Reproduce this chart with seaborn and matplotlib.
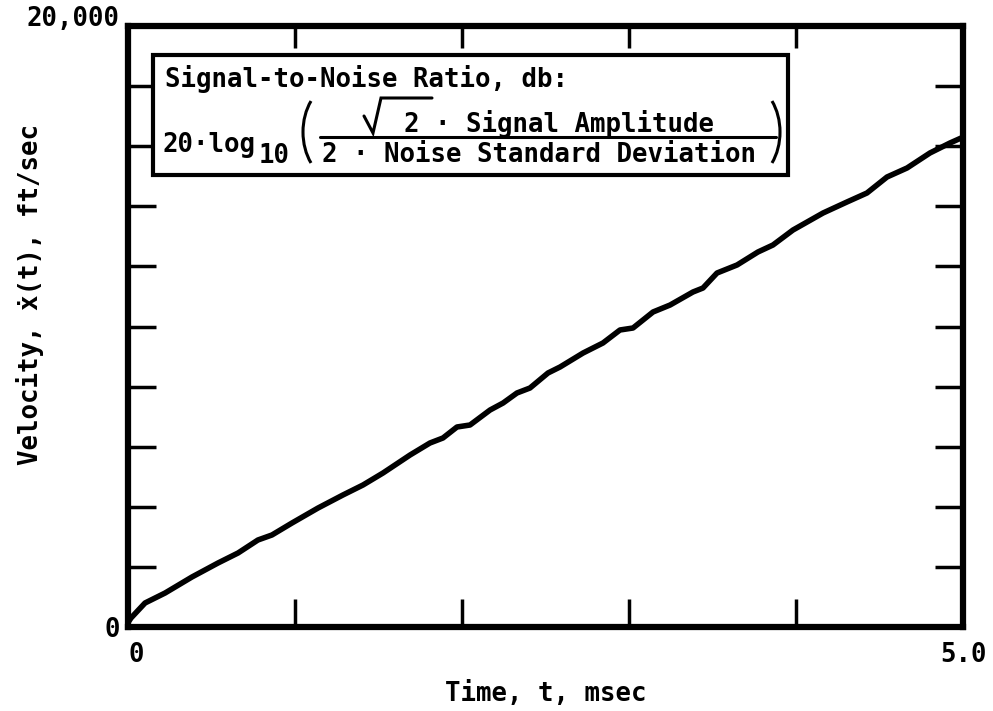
import numpy as np
import pandas as pd
import matplotlib
matplotlib.use("Agg")
import matplotlib.pyplot as plt
from matplotlib.patches import Rectangle, Arc
import seaborn as sns

# ---- data ----
time_ms = [0.0, 0.018, 0.102, 0.222, 0.383, 0.539, 0.659, 0.778, 0.862, 0.982,
           1.138, 1.287, 1.407, 1.527, 1.689, 1.808, 1.886, 1.970, 2.048, 2.168,
           2.246, 2.329, 2.407, 2.515, 2.587, 2.725, 2.844, 2.946, 3.024, 3.144,
           3.246, 3.383, 3.443, 3.527, 3.647, 3.772, 3.862, 3.982, 4.162, 4.305,
           4.425, 4.545, 4.665, 4.802, 4.922, 5.0]
velocity = [150, 300, 799, 1131, 1664, 2130, 2463, 2895, 3062, 3461,
            3960, 4393, 4725, 5125, 5724, 6123, 6290, 6656, 6722, 7221,
            7454, 7787, 7953, 8453, 8652, 9118, 9451, 9884, 9950, 10483,
            10715, 11148, 11281, 11780, 12047, 12479, 12712, 13211, 13777, 14143,
            14443, 14975, 15275, 15774, 16107, 16300]
x_ticks = [0, 1, 2, 3, 4, 5]
x_tick_labels = ["0", "", "", "", "", "5.0"]
y_ticks = [0, 2000, 4000, 6000, 8000, 10000, 12000, 14000, 16000, 18000, 20000]
y_tick_labels = ["0", "", "", "", "", "", "", "", "", "", "20,000"]

df = pd.DataFrame({"t": time_ms, "v": velocity})

sns.set_theme(style="ticks")
plt.rcParams["font.family"] = ["DejaVu Sans Mono", "DejaVu Sans"]
plt.rcParams["font.weight"] = "bold"
plt.rcParams["text.color"] = "black"
plt.rcParams["axes.labelcolor"] = "black"
plt.rcParams["xtick.color"] = "black"
plt.rcParams["ytick.color"] = "black"

W, H = 993, 711
fig = plt.figure(figsize=(W / 100, H / 100), dpi=100)
fig.patch.set_facecolor("white")

L, R, T, B = 128, 963, 26, 627
ax = fig.add_axes([L / W, (H - B) / H, (R - L) / W, (B - T) / H])
ax.set_facecolor("white")

sns.lineplot(data=df, x="t", y="v", ax=ax, color="black", linewidth=4.0,
             estimator=None, sort=False, solid_joinstyle="round",
             solid_capstyle="round")

ax.set_xlim(0, 5)
ax.set_ylim(0, 20000)
ax.set_xticks(x_ticks)
ax.set_xticklabels(x_tick_labels)
ax.set_yticks(y_ticks)
ax.set_yticklabels(y_tick_labels)

FS = 18.5
for sp in ax.spines.values():
    sp.set_visible(True)
    sp.set_linewidth(4.5)
    sp.set_color("black")

ax.tick_params(axis="both", which="major", direction="in", length=20, width=2.5,
               top=True, right=True, colors="black", labelsize=FS,
               labelcolor="black")
ax.tick_params(axis="x", pad=11)
ax.tick_params(axis="y", pad=6)
for tk in ax.xaxis.get_major_ticks():
    tk.tick2line.set_markersize(16)

xl = ax.get_xticklabels()
xl[0].set_ha("left")
yl = ax.get_yticklabels()
yl[-1].set_va("baseline")
yl[0].set_va("center_baseline")
for lab in xl + yl:
    lab.set_fontweight("bold")
    lab.set_color("black")

ax.set_xlabel("Time, t, msec", fontsize=FS, fontweight="bold", labelpad=9,
              color="black")
ax.set_ylabel("Velocity, ẋ(t), ft/sec", fontsize=FS, fontweight="bold",
              color="black")
ax.yaxis.set_label_coords(-0.100, 0.554)

# ---- annotation box drawn in pixel space ----
ov = fig.add_axes([0, 0, 1, 1], zorder=5)
ov.set_xlim(0, W)
ov.set_ylim(H, 0)
ov.axis("off")
ov.patch.set_alpha(0)

ov.add_patch(Rectangle((153, 55), 635, 120, facecolor="white", edgecolor="black",
                       linewidth=3.0))
tkw = dict(fontsize=FS, fontweight="bold", color="black", va="baseline", ha="left")
ov.text(165, 87, "Signal-to-Noise Ratio, db:", **tkw)
ov.text(162, 152, "20·log", **tkw)
ov.text(259, 163, "10", **tkw)
ov.text(404, 132, "2 · Signal Amplitude", **tkw)
ov.text(322, 162, "2 · Noise Standard Deviation", **tkw)
ov.plot([320, 776], [137, 137], color="black", linewidth=2.2)
ov.plot([364, 373, 381, 432], [116, 133, 98, 98], color="black",
        linewidth=2.2, solid_joinstyle="miter")
ov.add_patch(Arc((337, 132), 68, 96, theta1=130, theta2=230, color="black", linewidth=2.2))
ov.add_patch(Arc((746, 132), 68, 96, theta1=-50, theta2=50, color="black", linewidth=2.2))

fig.savefig("out.png", dpi=100, facecolor="white")
